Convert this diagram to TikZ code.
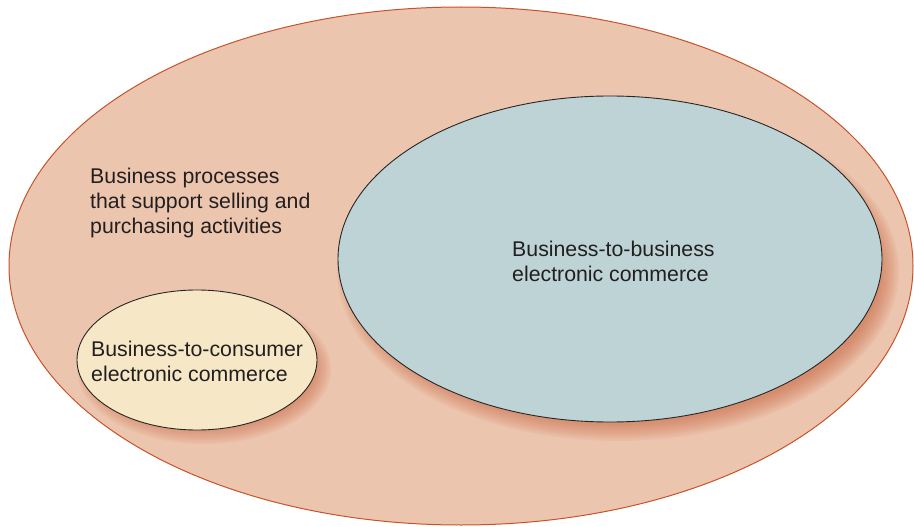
\documentclass[tikz,border=0pt]{standalone}
\usepackage{fontspec}
\setmainfont{Liberation Sans}
\definecolor{outerfill}{HTML}{ECC5AE}
\definecolor{outerline}{HTML}{C8522A}
\definecolor{bluefill}{HTML}{BDD3D6}
\definecolor{creamfill}{HTML}{F6E8C6}
\definecolor{shadowc}{HTML}{C9613A}
\definecolor{textc}{HTML}{231F20}
\tikzset{
  lbl/.style={inner sep=0pt, align=left, text=textc, font=\fontsize{21.3}{25}\selectfont},
  inner/.style={draw=black!85, line width=0.9pt},
}
\begin{document}
\begin{tikzpicture}[x=1pt,y=-1pt]
\useasboundingbox (0,0) rectangle (914,527);
% outer ellipse
\fill[outerfill] (461,266) ellipse [x radius=452, y radius=259];
\draw[outerline, line width=1pt] (461,266) ellipse [x radius=452, y radius=259];
% shadows
\foreach \k in {0,...,9} {
  \fill[shadowc, opacity=0.07] (618,271) ellipse [x radius=281-2*\k, y radius=170-2*\k];
  \fill[shadowc, opacity=0.07] (204,369) ellipse [x radius=127-2*\k, y radius=75-2*\k];
}
% inner ellipses
\draw[inner, fill=bluefill] (610,259) ellipse [x radius=272, y radius=163];
\draw[inner, fill=creamfill] (197,360) ellipse [x radius=120, y radius=70];
% labels
\node[lbl, anchor=west] (proc) at (90,203) {Business processes\\that support selling and\\purchasing activities};
\node[lbl, anchor=west] (btb) at (512,261) {Business-to-business\\electronic commerce};
\node[lbl, anchor=west] (btc) at (91,361) {Business-to-consumer\\electronic commerce};
\end{tikzpicture}
\end{document}
